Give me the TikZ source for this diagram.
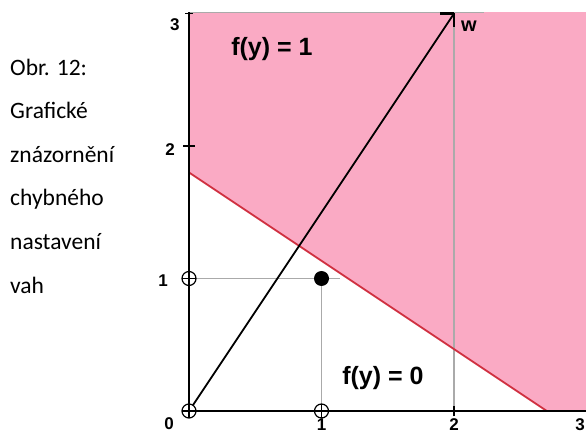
\documentclass[tikz,border=0pt]{standalone}
\usepackage{fontspec}
\setmainfont{Liberation Sans}
\newfontfamily\capfont{Carlito}
\definecolor{pinkfill}{RGB}{250,170,196}
\definecolor{redline}{RGB}{208,48,64}
\definecolor{gridgray}{RGB}{170,170,170}
\tikzset{
  captext/.style={anchor=base west, inner sep=0pt, font=\capfont\fontsize{23.5}{28}\selectfont},
  ticklabel/.style={inner sep=0pt, font=\bfseries\fontsize{17}{20}\selectfont},
  flabel/.style={inner sep=0pt, font=\bfseries\fontsize{25}{30}\selectfont},
  gridline/.style={draw=gridgray, line width=1.2pt},
  axisline/.style={draw=black, line width=2pt},
  opoint/.style={circle, draw=black, line width=1.2pt, fill=white, minimum size=14pt, inner sep=0pt,
    path picture={\draw[line width=1.2pt] (path picture bounding box.north) -- (path picture bounding box.south)
      (path picture bounding box.west) -- (path picture bounding box.east);}},
  fpoint/.style={circle, fill=black, minimum size=15pt, inner sep=0pt}
}
\begin{document}
\begin{tikzpicture}
\useasboundingbox (0,0) rectangle (586pt,434pt);
% caption
\node[captext] (c1) at (10pt,{434pt-75.5pt}) {Obr. 12:};
\node[captext] (c2) at (10pt,{434pt-119pt}) {Grafické};
\node[captext] (c3) at (10pt,{434pt-162.5pt}) {znázornění};
\node[captext] (c4) at (10pt,{434pt-206pt}) {chybného};
\node[captext] (c5) at (10pt,{434pt-249.5pt}) {nastavení};
\node[captext] (c6) at (10pt,{434pt-293pt}) {vah};
\begin{scope}[shift={(189pt,23pt)}, x=132.5pt, y=132.5pt]
  \coordinate (O) at (0,0);
  \coordinate (W) at (2,3);
  \coordinate (Ltop) at (0,1.8);
  \coordinate (Lbot) at (2.7,0);
  \coordinate (Xend) at (2.996,0);
  \coordinate (Yend) at (0,3.01);
  % half-plane f(y)=1
  \fill[pinkfill] (Ltop) -- (0,3.01) -- (2.996,3.01) -- (2.996,0) -- (Lbot) -- cycle;
  % grid lines
  \draw[gridline] (0,1) -- (1.14,1);
  \draw[gridline] (1,0) -- (1,1);
  \draw[gridline] (2,0) -- (2,3.01);
  \draw[gridline] (0,3.01) -- (2.23,3.01);
  % separating line
  \draw[draw=redline, line width=1.8pt] (Ltop) -- (Lbot);
  % axes
  \draw[axisline] (O) -- (Xend);
  \draw[axisline] (O) -- (Yend);
  \draw[line width=1.5pt] (-0.045,2) -- (0.045,2);
  \draw[line width=1.5pt] (-0.03,3.0) -- (0.03,3.0);
  \draw[line width=1.5pt] (2,-0.04) -- (2,0.04);
  % weight vector
  \draw[line width=1.8pt] (O) -- (W);
  \draw[line width=2.5pt] (W) -- ++(-14pt,0);
  \draw[line width=1.8pt] (W) -- ++(0,-14pt);
  % points
  \node[opoint] (p00) at (0,0) {};
  \node[opoint] (p10) at (1,0) {};
  \node[opoint] (p01) at (0,1) {};
  \node[fpoint] (p11) at (1,1) {};
  % labels
  \node[ticklabel] (x0) at (-0.151,-0.098) {0};
  \node[ticklabel] (x1) at (1,-0.1) {1};
  \node[ticklabel] (x2) at (2,-0.1) {2};
  \node[ticklabel] (x3) at (2.951,-0.1) {3};
  \node[ticklabel] (y1) at (-0.196,0.981) {1};
  \node[ticklabel] (y2) at (-0.143,1.974) {2};
  \node[ticklabel] (y3) at (-0.106,2.913) {3};
  \node[ticklabel, font=\bfseries\fontsize{20}{24}\selectfont] (wl) at (2.113,2.906) {w};
  \node[flabel] (f1) at (0.626,2.732) {f(y) = 1};
  \node[flabel] (f0) at (1.464,0.249) {f(y) = 0};
\end{scope}
\end{tikzpicture}
\end{document}
